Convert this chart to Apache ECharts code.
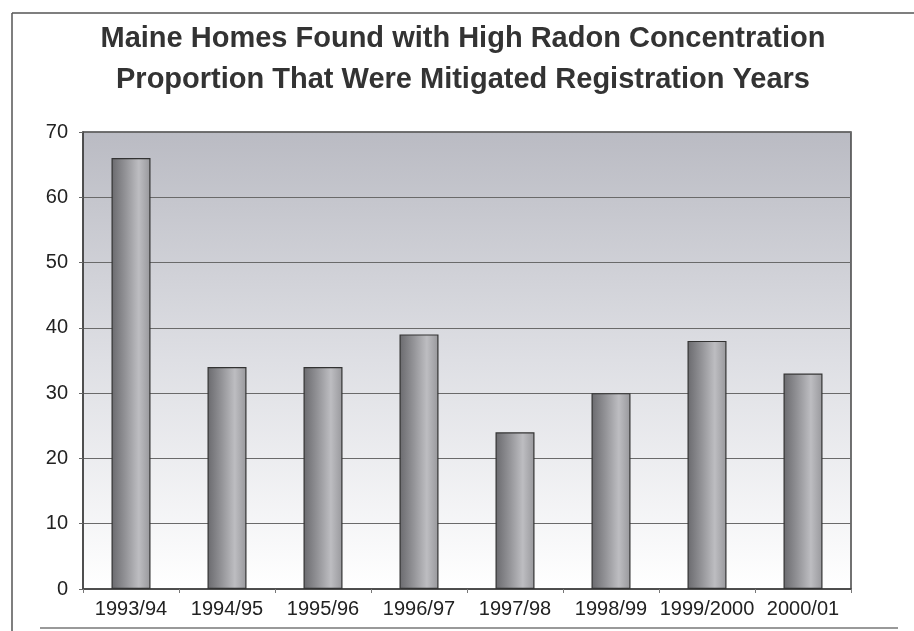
<!DOCTYPE html>
<html>
<head>
<meta charset="utf-8">
<title>Maine Homes Radon</title>
<script src="https://cdn.jsdelivr.net/npm/echarts@6/dist/echarts.min.js"></script>
<style>
  html, body { margin: 0; padding: 0; background: #fff; }
  #radonChart { width: 914px; height: 631px; }
</style>
</head>
<body>
<div id="radonChart"></div>
<script>
// data
var years = ['1993/94', '1994/95', '1995/96', '1996/97', '1997/98', '1998/99', '1999/2000', '2000/01'];
var mitigated = [66, 34, 34, 39, 24, 30, 38, 33];
var yTicks = [0, 10, 20, 30, 40, 50, 60, 70];

var font = '"Liberation Sans", Arial, sans-serif';

var chart = echarts.init(document.getElementById('radonChart'));

var option = {
    backgroundColor: '#ffffff',
    animation: false,
    title: {
        text: 'Maine Homes Found with High Radon Concentration\nProportion That Were Mitigated Registration Years',
        left: 463,
        textAlign: 'center',
        top: 18,
        padding: 0,
        textStyle: {
            fontFamily: font,
            fontSize: 29,
            fontWeight: 'bold',
            color: '#333333',
            lineHeight: 41
        }
    },
    // page frame lines like the scanned figure
    graphic: [
        { type: 'line', shape: { x1: 12, y1: 13, x2: 914, y2: 13 }, style: { stroke: '#555', lineWidth: 1.5 } },
        { type: 'line', shape: { x1: 12, y1: 13, x2: 12, y2: 631 }, style: { stroke: '#555', lineWidth: 1.5 } },
        { type: 'line', shape: { x1: 40, y1: 628, x2: 898, y2: 628 }, style: { stroke: '#777', lineWidth: 1.5 } }
    ],
    grid: {
        left: 83,
        right: 63,
        top: 132,
        bottom: 42,
        show: true,
        borderColor: '#444',
        borderWidth: 1.5,
        backgroundColor: {
            type: 'linear', x: 0, y: 0, x2: 0, y2: 1,
            colorStops: [
                { offset: 0, color: '#babbc3' },
                { offset: 0.5, color: '#dedfe4' },
                { offset: 1, color: '#ffffff' }
            ]
        }
    },
    xAxis: {
        type: 'category',
        data: years,
        axisLine: { lineStyle: { color: '#444', width: 1.5 } },
        axisTick: { show: true, length: 4, lineStyle: { color: '#777' } },
        axisLabel: {
            fontFamily: font,
            fontSize: 20,
            color: '#222',
            margin: 10,
            interval: 0
        }
    },
    yAxis: {
        type: 'value',
        min: yTicks[0],
        max: yTicks[yTicks.length - 1],
        interval: 10,
        axisLine: { show: true, lineStyle: { color: '#444', width: 1.5 } },
        axisTick: { show: true, length: 4, lineStyle: { color: '#666' } },
        axisLabel: {
            fontFamily: font,
            fontSize: 20,
            color: '#222',
            margin: 15
        },
        splitLine: { lineStyle: { color: '#6a6a6a', width: 1 } }
    },
    series: [{
        name: 'Mitigated',
        type: 'bar',
        data: mitigated,
        barWidth: 39,
        itemStyle: {
            borderColor: '#333333',
            borderWidth: 1.2,
            color: {
                type: 'linear', x: 0, y: 0, x2: 1, y2: 0,
                colorStops: [
                    { offset: 0, color: '#6a6a6e' },
                    { offset: 0.35, color: '#929296' },
                    { offset: 0.7, color: '#bdbdc1' },
                    { offset: 1, color: '#98989c' }
                ]
            }
        }
    }]
};

chart.setOption(option);
</script>
</body>
</html>
